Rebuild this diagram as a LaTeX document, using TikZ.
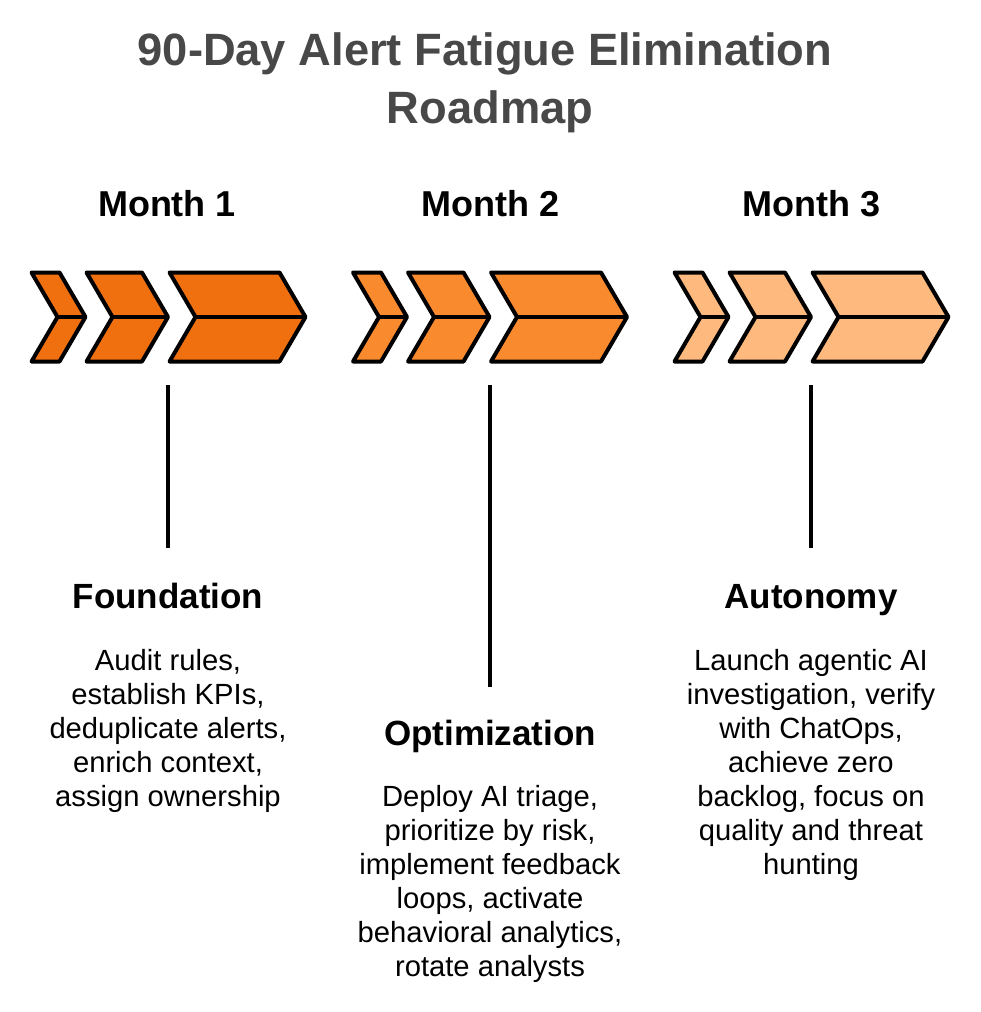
\documentclass[tikz,border=0pt]{standalone}
\usepackage{fontspec}
\setmainfont{Liberation Sans}
\definecolor{mA}{HTML}{F07010}
\definecolor{mB}{HTML}{FA8A2E}
\definecolor{mC}{HTML}{FDB97E}
\definecolor{titlegray}{HTML}{484848}
\tikzset{
  chev/.style={draw=black, line width=4pt, line join=round},
  vline/.style={draw=black, line width=3.5pt},
  titletext/.style={font=\fontsize{45.3}{57}\selectfont\bfseries, text=titlegray, anchor=base, inner sep=0pt},
  monthtext/.style={font=\fontsize{36}{43}\selectfont\bfseries, anchor=base, inner sep=0pt},
  headtext/.style={font=\fontsize{35}{42}\selectfont\bfseries, anchor=base, inner sep=0pt},
  desctext/.style={font=\fontsize{29.2}{34}\selectfont, align=center, anchor=north, inner sep=0pt},
}
\begin{document}
\begin{tikzpicture}[x=1pt,y=-1pt]
\useasboundingbox[fill=white] (0,0) rectangle (980,1012);
% title
\node[titletext] (title1) at (485,65.7) {90-Day Alert Fatigue Elimination};
\node[titletext] (title2) at (490,123.5) {Roadmap};
% month headers
\node[monthtext] (m1) at (167,216.5) {Month 1};
\node[monthtext] (m2) at (490.5,216.5) {Month 2};
\node[monthtext] (m3) at (811.5,216.5) {Month 3};
% chevrons
\foreach \k/\col in {0/mA,1/mB,2/mC}{
  \begin{scope}[xshift={\k*321.5pt}]
    \foreach \L/\R in {31.5/59.5, 86.5/142, 169.5/279.5}{
      \filldraw[chev, fill=\col] (\L,272.5) -- (\R,272.5) -- ({\R+26},317) -- (\R,361.5) -- (\L,361.5) -- ({\L+26},317) -- cycle;
      \draw[chev] ({\L+26},317) -- ({\R+26},317);
    }
  \end{scope}
}
% connectors
\coordinate (t1) at (168,385);
\coordinate (b1) at (168,548);
\coordinate (t2) at (490,385);
\coordinate (b2) at (490,687);
\coordinate (t3) at (811,385);
\coordinate (b3) at (811,548);
\draw[vline] (t1) -- (b1);
\draw[vline] (t2) -- (b2);
\draw[vline] (t3) -- (b3);
% phase titles
\node[headtext] (h1) at (168,608) {Foundation};
\node[headtext] (h2) at (490,745) {Optimization};
\node[headtext] (h3) at (811,608) {Autonomy};
% descriptions
\node[desctext] (d1) at (168,646.2) {\strut Audit rules,\\establish KPIs,\\deduplicate alerts,\\enrich context,\\assign ownership};
\node[desctext] (d2) at (490,782.2) {\strut Deploy AI triage,\\prioritize by risk,\\implement feedback\\loops, activate\\behavioral analytics,\\rotate analysts};
\node[desctext] (d3) at (811,646.2) {\strut Launch agentic AI\\investigation, verify\\with ChatOps,\\achieve zero\\backlog, focus on\\quality and threat\\hunting};
\end{tikzpicture}
\end{document}
